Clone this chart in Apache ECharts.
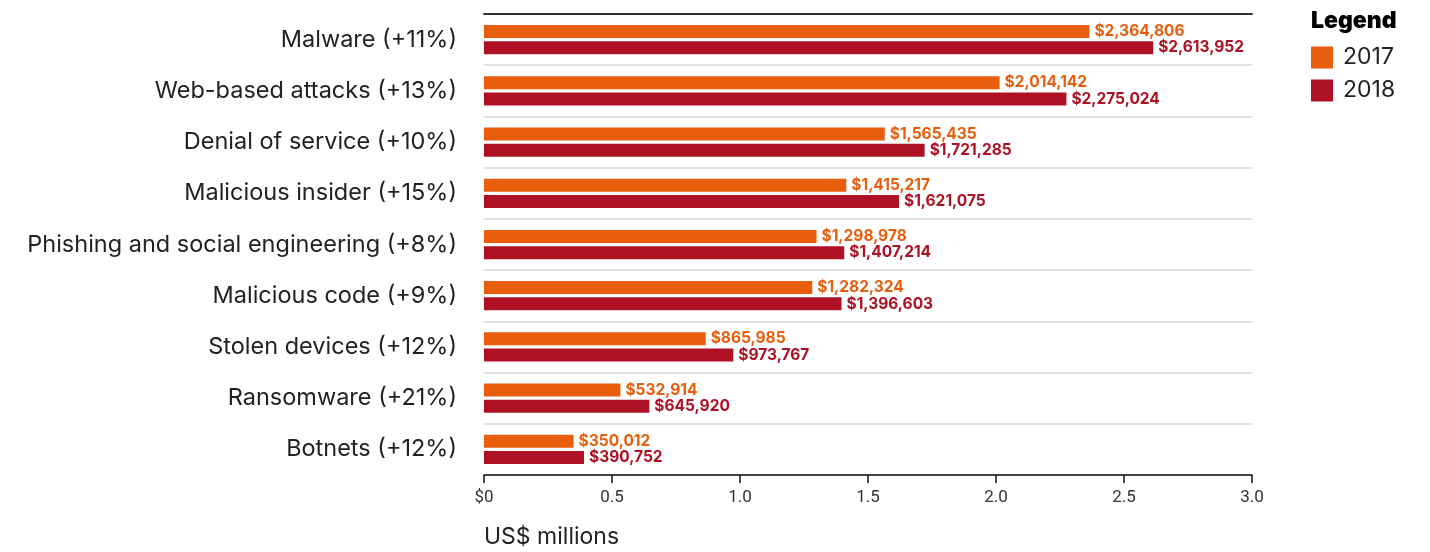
<!DOCTYPE html>
<html>
<head>
<meta charset="utf-8">
<script src="https://cdn.jsdelivr.net/npm/echarts@6/dist/echarts.min.js"></script>
<style>html,body{margin:0;padding:0;background:#fff}#c{width:1430px;height:552px}</style>
</head>
<body>
<div id="c"></div>
<script>
const categories = ["Malware (+11%)","Web-based attacks (+13%)","Denial of service (+10%)","Malicious insider (+15%)","Phishing and social engineering (+8%)","Malicious code (+9%)","Stolen devices (+12%)","Ransomware (+21%)","Botnets (+12%)"];
const values2017 = [2364806,2014142,1565435,1415217,1298978,1282324,865985,532914,350012];
const values2018 = [2613952,2275024,1721285,1621075,1407214,1396603,973767,645920,390752];
const tickLabels = ["$0","0.5","1.0","1.5","2.0","2.5","3.0"];

const fmt = v => '$' + v.toLocaleString('en-US');
const chart = echarts.init(document.getElementById('c'));
const mk = (name, arr, color) => ({
  name, type: 'bar', data: arr.map(v => v / 1e6), barWidth: 13, barGap: '25%',
  itemStyle: { color }, animation: false,
  label: { show: true, position: 'right', distance: 5, color: color, fontFamily: 'Inter', fontWeight: 'bold', fontSize: 15.5,
    formatter: p => fmt(arr[p.dataIndex]) }
});
chart.setOption({
  animation: false,
  title: [
    { text: 'Legend', left: 1311, top: 10, padding: 0, textStyle: { fontFamily: 'Inter', fontWeight: 900, fontSize: 23, color: '#000' } },
    { text: 'US$ millions', left: 484, top: 526, padding: 0, textStyle: { fontFamily: 'Inter', fontWeight: 'normal', fontSize: 23, color: '#222' } }
  ],
  legend: { orient: 'vertical', left: 1311, top: 46, padding: 0, icon: 'rect', itemWidth: 22, itemHeight: 22, itemGap: 10,
    textStyle: { fontFamily: 'Inter', fontSize: 23, color: '#222', padding: [0,0,0,5] }, data: ['2017','2018'] },
  grid: { left: 484, right: 178, top: 14, bottom: 77, containLabel: false },
  xAxis: [
    { type: 'value', min: 0, max: 3, interval: 0.5, position: 'bottom',
      axisLine: { show: true, lineStyle: { color: '#111', width: 1.5 } },
      axisTick: { show: true, length: 8, lineStyle: { color: '#111', width: 1.5 } },
      axisLabel: { margin: 14, color: '#333', fontFamily: 'Roboto', fontSize: 17, formatter: (v, i) => tickLabels[Math.round(v / 0.5)] },
      splitLine: { show: false } },
    { type: 'value', min: 0, max: 3, position: 'top',
      axisLine: { show: true, lineStyle: { color: '#333', width: 2 } },
      axisTick: { show: false }, axisLabel: { show: false }, splitLine: { show: false } }
  ],
  yAxis: { type: 'category', data: categories, inverse: true,
    axisLine: { show: false }, axisTick: { show: false },
    axisLabel: { margin: 27, color: '#222', fontFamily: 'Inter', fontSize: 23.5 },
    splitLine: { show: true, lineStyle: { color: '#d9d9d9', width: 1.5 } } },
  series: [mk('2017', values2017, '#E95E0C'), mk('2018', values2018, '#AD1123')]
});
</script>
</body>
</html>
